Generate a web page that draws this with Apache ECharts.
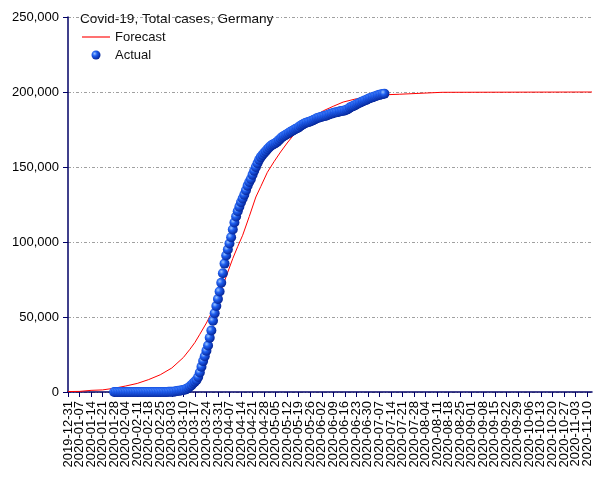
<!DOCTYPE html>
<html>
<head>
<meta charset="utf-8">
<script src="https://cdn.jsdelivr.net/npm/echarts@6/dist/echarts.min.js"></script>
<style>
html,body{margin:0;padding:0;background:#fff;}
#chart{width:605px;height:480px;}
</style>
</head>
<body>
<div id="chart"></div>
<script>
// ---- data ----
var firstDate = '2019-12-31';
var lastDate = '2020-11-13';
var titleText = 'Covid-19, Total cases, Germany';
var seriesNames = ['Forecast', 'Actual'];

// Actual: daily totals starting 2020-01-28
var actualStart = '2020-01-28';
var actualValues = [
  4,5,7,8,10,12,12,12,12,13,13,14,14,16,16,16,16,16,16,16,16,16,16,16,16,16,16,16,18,21,26,53,
  66,117,150,188,240,400,639,795,902,1139,
  1300,1600,2100,2800,3700,4600,5800,6900,8000,10000,
  13000,16800,20600,23800,27500,31000,36200,41000,47500,52500,
  57300,62000,67000,72800,79200,85600,91000,95000,99000,103200,
  108300,113000,117000,120500,123500,126500,129000,131500,134500,137500,
  140000,142000,144800,147500,150000,152500,154800,156600,158000,159300,
  160500,161800,163000,164000,164800,165400,166000,166800,167900,169000,
  170000,170700,171300,172000,172700,173500,174000,174700,175300,175900,
  176400,177400,178100,178700,179300,179700,180000,180400,180900,181300,
  181900,182500,182900,183200,183500,183800,184100,184400,184800,185300,
  185600,186000,186300,186500,186700,187100,187300,187500,187700,188200,
  188700,189600,190200,190600,191100,191700,192300,192800,193300,193900,
  194300,194700,195300,195800,196200,196600,197000,197300,197800,198100,
  198400,198700,198900
];

// Forecast: (day offset from first date, value)
var forecastDays = [0,7,8,14,21,28,35,42,49,56,63,70,74,77,80,84,87,91,95,100,103,106,110,114,117,121,125,129,133,137,141,145,149,155,161,167,175,183,191,201,202,227,228,318];
var forecastValues = [300,400,900,1100,1400,2500,4000,5700,8300,11500,16000,23000,28500,33000,38500,46000,52500,62000,74000,89000,97000,104500,117000,130000,137000,146500,153500,160000,166000,171500,176000,180000,183500,187500,190500,193300,195500,197000,198100,198500,199700,199800,200000,200000];

var yMin = 0, yMax = 250000, yStep = 50000;
var labelEvery = 7;

// ---- build categories (daily dates) ----
function parseD(s){var p=s.split('-');return Date.UTC(+p[0],+p[1]-1,+p[2]);}
function fmt(t){var d=new Date(t);var m=d.getUTCMonth()+1, dd=d.getUTCDate();
  return d.getUTCFullYear()+'-'+(m<10?'0':'')+m+'-'+(dd<10?'0':'')+dd;}
var DAY = 86400000;
var categories = [];
for (var t = parseD(firstDate); t <= parseD(lastDate); t += DAY) categories.push(fmt(t));
var actualOffset = categories.indexOf(actualStart);
var actualData = actualValues.map(function(v,i){return [actualOffset+i, v];});
var forecastData = forecastDays.map(function(d,i){return [d, forecastValues[i]];});

var FONT = '"Liberation Sans", Arial, sans-serif';
var AXIS = '#000066';
function every(idx){ return idx % labelEvery === 0; }

var chart = echarts.init(document.getElementById('chart'), null, {renderer:'canvas'});
chart.setOption({
  animation: false,
  backgroundColor: '#fff',
  title: {
    text: titleText, left: 80, top: 12, padding: 0,
    textStyle: {fontFamily: FONT, fontSize: 13.6, fontWeight: 'normal', color: '#111'}
  },
  legend: {
    data: [
      {name: seriesNames[0], icon: 'path://M0,0 L100,0 L100,4 L0,4 Z'},
      {name: seriesNames[1], icon: 'circle'}
    ],
    orient: 'vertical', left: 82, top: 30, padding: 0,
    itemWidth: 28, itemHeight: 9, itemGap: 4,
    textStyle: {fontFamily: FONT, fontSize: 13, color: '#111', lineHeight: 14}
  },
  grid: {left: 68, right: 13, top: 17, bottom: 88, containLabel: false},
  xAxis: {
    type: 'category', data: categories, boundaryGap: false,
    axisLine: {lineStyle: {color: AXIS, width: 1.5}},
    axisTick: {interval: every, length: 5, lineStyle: {color: AXIS}},
    axisLabel: {interval: 0, rotate: 90, margin: 9,
      formatter: function(v, i){ return every(i) ? v : ''; },
      fontFamily: FONT, fontSize: 13, color: '#000'},
    splitLine: {show: false}
  },
  yAxis: {
    type: 'value', min: yMin, max: yMax, interval: yStep,
    axisLine: {show: true, lineStyle: {color: AXIS, width: 1.5}},
    axisTick: {show: true, length: 5, lineStyle: {color: AXIS}},
    axisLabel: {margin: 9, fontFamily: FONT, fontSize: 13, color: '#000',
      formatter: function(v){return v.toLocaleString('en-US');}},
    splitLine: {show: true, lineStyle: {color: '#a0a0a0', type: [3, 2, 1, 2], width: 1}}
  },
  series: [
    {
      name: seriesNames[0], type: 'line', data: forecastData,
      symbol: 'none', smooth: false,
      lineStyle: {color: '#ff0000', width: 1},
      itemStyle: {color: '#ff0000'}, z: 2
    },
    {
      name: seriesNames[1], type: 'scatter', data: actualData,
      symbol: 'circle', symbolSize: 10, z: 3,
      itemStyle: {
        opacity: 1,
        color: {type: 'radial', x: 0.35, y: 0.35, r: 0.75, colorStops: [
          {offset: 0, color: '#9cc6ff'},
          {offset: 0.35, color: '#1f5ff0'},
          {offset: 1, color: '#001a88'}
        ]}
      }
    }
  ]
});
</script>
</body>
</html>
